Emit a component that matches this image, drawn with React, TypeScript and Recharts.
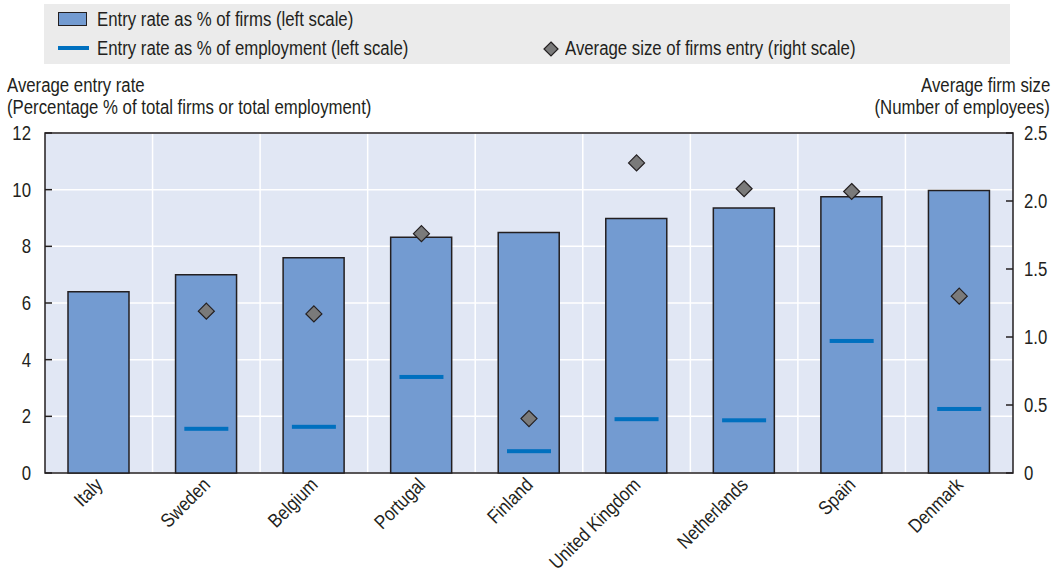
import React from 'react';
import { ComposedChart, Bar, Scatter, XAxis, YAxis, CartesianGrid, ReferenceArea } from 'recharts';

const countries = ['Italy', 'Sweden', 'Belgium', 'Portugal', 'Finland', 'United Kingdom', 'Netherlands', 'Spain', 'Denmark'];
const firmsRate = [6.4, 7.0, 7.6, 8.32, 8.49, 8.98, 9.35, 9.75, 9.97];
const employmentRate: (number | null)[] = [null, 1.56, 1.63, 3.39, 0.77, 1.9, 1.86, 4.66, 2.26];
const avgSize: (number | null)[] = [null, 1.19, 1.17, 1.76, 0.4, 2.28, 2.09, 2.07, 1.3];
const leftTicks = [0, 2, 4, 6, 8, 10, 12];
const rightTicks = [0, 0.5, 1, 1.5, 2, 2.5];

const data = countries.map((c, i) => ({
  country: c,
  firms: firmsRate[i],
  employment: employmentRate[i],
  size: avgSize[i],
}));

const boundaryTicks = countries.slice(1).map((_, i) => i + 1);

const FONT = '"Liberation Sans", Arial, sans-serif';
const FS = 19.5;
const SX = 0.86;
const TEXT = '#231f20';
const BAR_FILL = '#739bd1';
const DASH = '#0070bf';
const DIAMOND = '#7a7a7a';
const BORDER = '#231f20';

const Narrow = ({ children, origin = 'left' }: { children: React.ReactNode; origin?: string }) => (
  <span style={{ display: 'inline-block', transform: `scaleX(${SX})`, transformOrigin: origin, whiteSpace: 'nowrap' }}>
    {children}
  </span>
);

const CatTick = (props: any) => {
  const { x, y, payload } = props;
  const ax = x + 5;
  const ay = y + 5;
  return (
    <text
      x={0}
      y={0}
      transform={`translate(${ax} ${ay}) rotate(-45) scale(${SX} 1)`}
      textAnchor="end"
      fontSize={FS}
      fontFamily={FONT}
      fill={TEXT}
    >
      {payload.value}
    </text>
  );
};

const makeYTick = (anchor: 'start' | 'end', fmt: (v: number) => string) => (props: any) => {
  const { x, y, payload } = props;
  return (
    <text
      x={0}
      y={0}
      dy="0.36em"
      transform={`translate(${x} ${y}) scale(${SX} 1)`}
      textAnchor={anchor}
      fontSize={FS}
      fontFamily={FONT}
      fill={TEXT}
    >
      {fmt(payload.value)}
    </text>
  );
};

const LeftTick = makeYTick('end', (v) => String(v));
const RightTick = makeYTick('start', (v) => (v === 0 ? '0' : v.toFixed(1)));

const DashShape = (props: any) => {
  const { cx, cy, payload } = props;
  if (payload == null || payload.employment == null) return <g />;
  return <rect x={cx - 22} y={cy - 2} width={44} height={4} fill={DASH} />;
};

const DiamondShape = (props: any) => {
  const { cx, cy, payload } = props;
  if (payload == null || payload.size == null) return <g />;
  const r = 8;
  return (
    <polygon
      points={`${cx},${cy - r} ${cx + r},${cy} ${cx},${cy + r} ${cx - r},${cy}`}
      fill={DIAMOND}
      stroke={BORDER}
      strokeWidth={1.2}
    />
  );
};

const verticalGen = (p: any) => {
  const { offset } = p;
  const n = countries.length;
  return boundaryTicks.map((k) => offset.left + (offset.width * k) / n);
};

export default function App() {
  const textStyle: React.CSSProperties = { position: 'absolute', fontSize: FS, lineHeight: '22px', whiteSpace: 'nowrap' };
  return (
    <div style={{ position: 'absolute', left: 0, top: 0, width: 1058, height: 577, fontFamily: FONT, color: TEXT }}>
      {/* Legend */}
      <div style={{ position: 'absolute', left: 44, top: 4, width: 966, height: 60, background: '#ebebeb' }}>
        <div style={{ position: 'absolute', left: 14, top: 8, width: 29, height: 14, background: BAR_FILL, border: `1.5px solid ${BORDER}`, boxSizing: 'border-box' }} />
        <div style={{ ...textStyle, left: 53, top: 4 }}><Narrow>Entry rate as % of firms (left scale)</Narrow></div>
        <div style={{ position: 'absolute', left: 14, top: 42, width: 31, height: 4, background: DASH }} />
        <div style={{ ...textStyle, left: 53, top: 33 }}><Narrow>Entry rate as % of employment (left scale)</Narrow></div>
        <svg style={{ position: 'absolute', left: 499, top: 37 }} width={16} height={16}>
          <polygon points="8,1 15,8 8,15 1,8" fill={DIAMOND} stroke={BORDER} strokeWidth={1.2} />
        </svg>
        <div style={{ ...textStyle, left: 521, top: 33 }}><Narrow>Average size of firms entry (right scale)</Narrow></div>
      </div>
      {/* Axis titles */}
      <div style={{ ...textStyle, left: 7, top: 74 }}>
        <Narrow>Average entry rate</Narrow><br />
        <Narrow>(Percentage % of total firms or total employment)</Narrow>
      </div>
      <div style={{ ...textStyle, right: 8, top: 74, textAlign: 'right' }}>
        <Narrow origin="right">Average firm size</Narrow><br />
        <Narrow origin="right">(Number of employees)</Narrow>
      </div>
      <div style={{ position: 'absolute', left: 0, top: 0 }}>
        <ComposedChart
          width={1058}
          height={577}
          data={data}
          margin={{ top: 133, right: 0, bottom: 0, left: 0 }}
          barCategoryGap="21%"
        >
          <CartesianGrid
            yAxisId="left"
            fill="#e1e7f4"
            fillOpacity={1}
            stroke="#ffffff"
            strokeWidth={1.5}
            verticalCoordinatesGenerator={verticalGen}
          />
          <XAxis
            xAxisId="minor"
            type="number"
            domain={[0, countries.length]}
            allowDataOverflow
            ticks={boundaryTicks}
            height={0}
            mirror
            tick={false}
            axisLine={false}
            tickLine={{ stroke: BORDER, strokeWidth: 1.5 }}
            tickSize={6}
          />
          <XAxis
            dataKey="country"
            height={104}
            interval={0}
            tickLine={false}
            axisLine={false}
            tick={<CatTick />}
          />
          <YAxis
            yAxisId="left"
            domain={[0, 12]}
            ticks={leftTicks}
            width={45}
            axisLine={false}
            tickLine={{ stroke: BORDER, strokeWidth: 1.5 }}
            tickSize={-7}
            tickMargin={21}
            tick={<LeftTick />}
          />
          <YAxis
            yAxisId="right"
            orientation="right"
            domain={[0, 2.5]}
            ticks={rightTicks}
            width={45}
            axisLine={false}
            tickLine={{ stroke: BORDER, strokeWidth: 1.5 }}
            tickSize={-7}
            tickMargin={18}
            tick={<RightTick />}
          />
          <Bar
            yAxisId="left"
            dataKey="firms"
            fill={BAR_FILL}
            stroke={BORDER}
            strokeWidth={1.5}
            barSize={61}
            isAnimationActive={false}
          />
          <Scatter yAxisId="left" dataKey="employment" shape={<DashShape />} isAnimationActive={false} />
          <Scatter yAxisId="right" dataKey="size" shape={<DiamondShape />} isAnimationActive={false} />
          <ReferenceArea yAxisId="left" y1={0} y2={12} fill="none" stroke={BORDER} strokeWidth={1.5} ifOverflow="visible" />
        </ComposedChart>
      </div>
    </div>
  );
}
